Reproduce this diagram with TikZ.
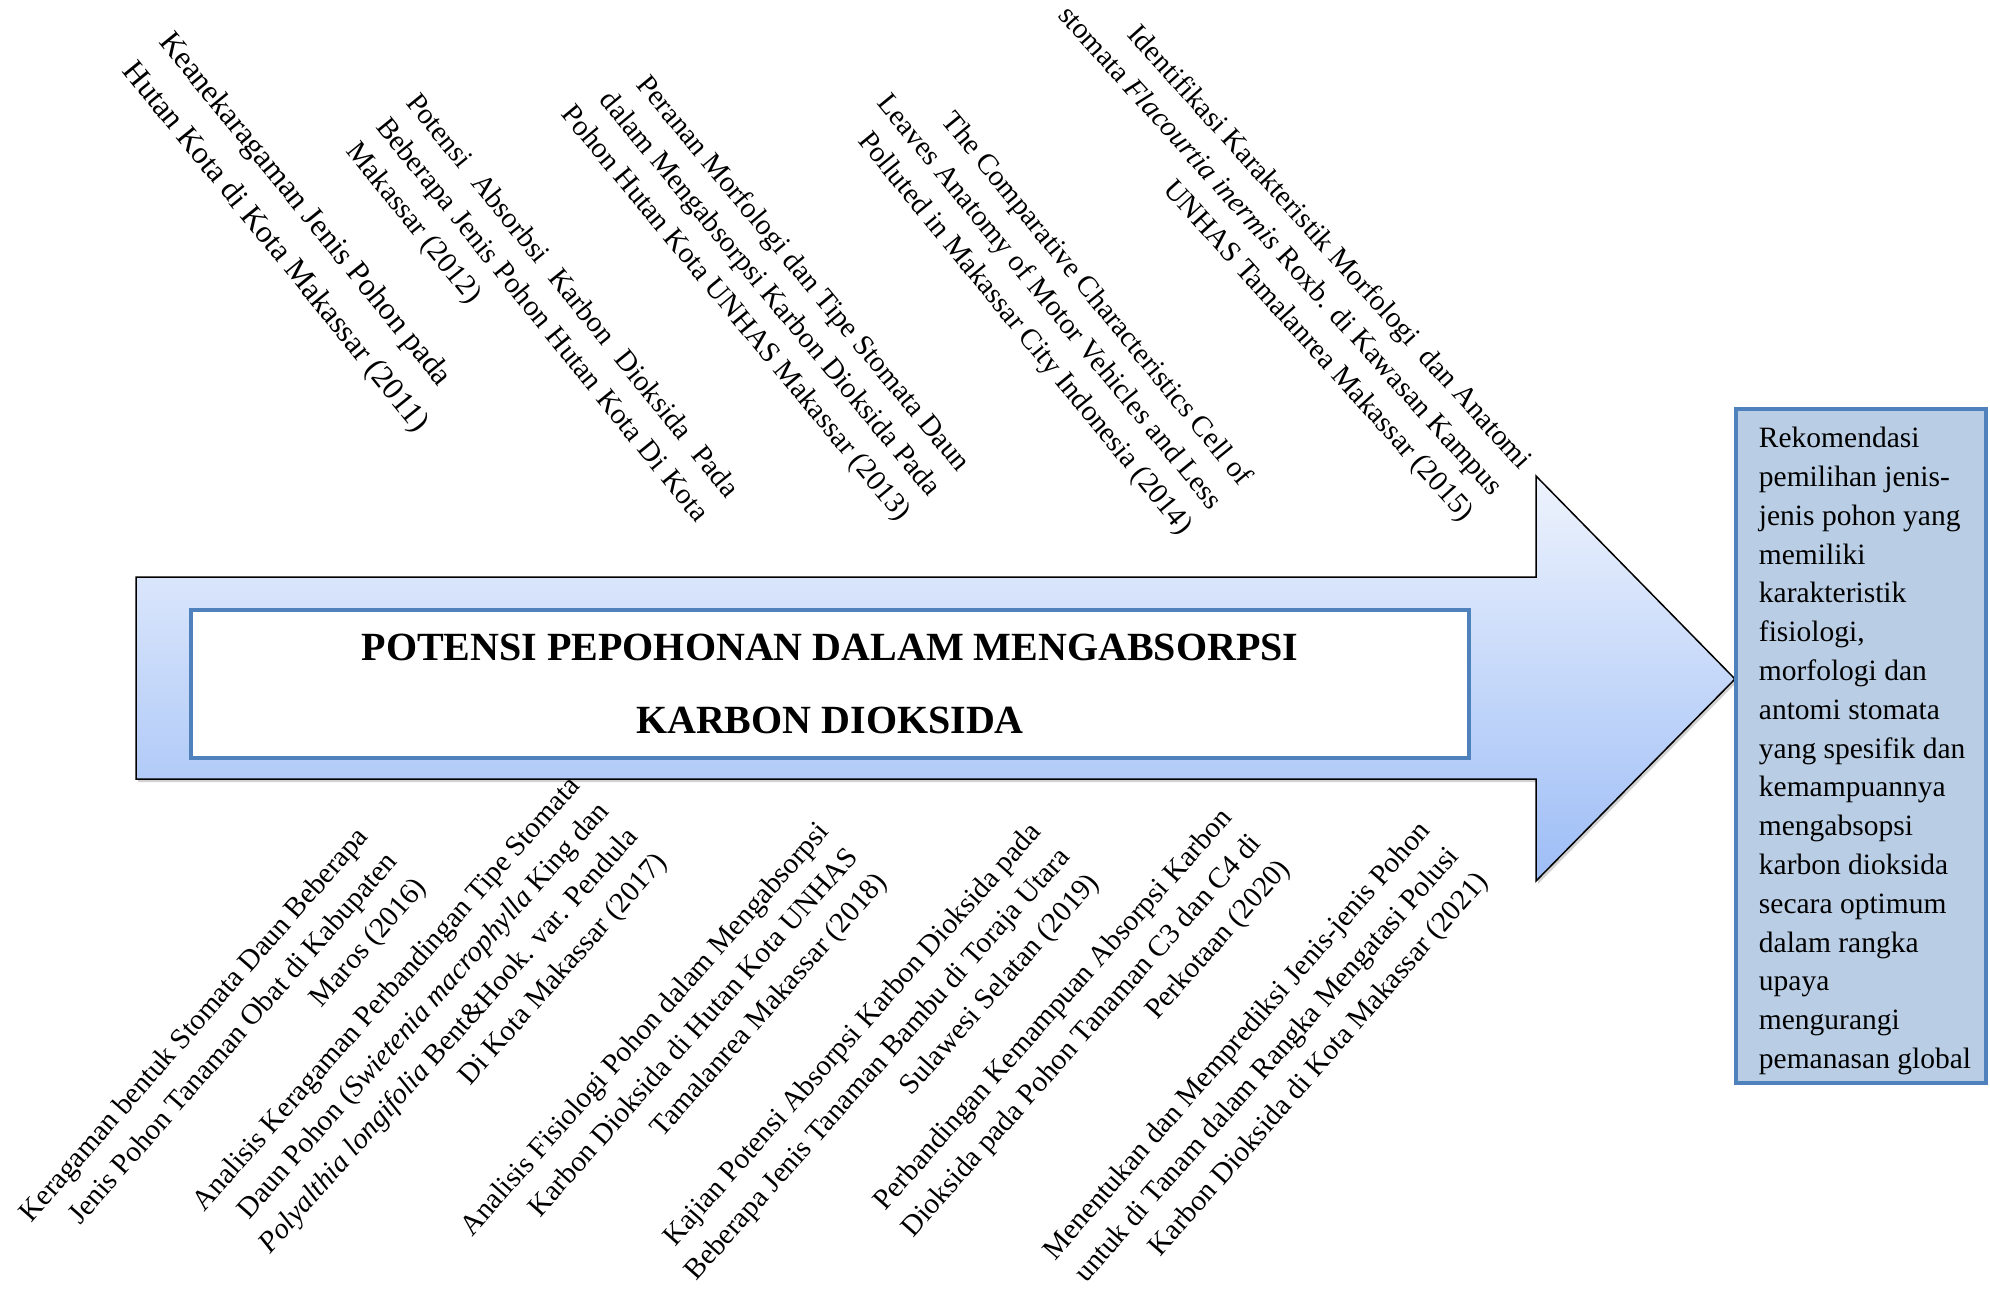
\documentclass[tikz,border=0pt]{standalone}
\usepackage{fontspec}
\setmainfont{Liberation Serif}
\usetikzlibrary{shadows}

\definecolor{birubingkai}{HTML}{4F81BD}
\definecolor{birukotak}{HTML}{B9CDE5}
\definecolor{panahatas}{HTML}{EEF3FD}
\definecolor{panahbawah}{HTML}{9DBDF6}

\tikzset{
  labelatas/.style={inner sep=0pt, font=\fontsize{29.2}{38.5}\selectfont},
  labelbawah/.style={inner sep=0pt, align=right, anchor=north east,
    font=\fontsize{29.2}{38.5}\selectfont},
}

\begin{document}
\begin{tikzpicture}[x=1pt,y=-1pt]

\path[use as bounding box, fill=white] (0,0) rectangle (1990,1290);

% panah besar
\shadedraw[top color=panahatas, bottom color=panahbawah, draw=black, line width=1.5pt,
  drop shadow={shadow xshift=2pt, shadow yshift=-3pt, opacity=0.35}]
  (136,577) -- (1536,577) -- (1536,476) -- (1735,679) -- (1536,881) -- (1536,779) -- (136,779) -- cycle;

% kotak judul
\node[draw=birubingkai, line width=4.5pt, fill=white, minimum width=1278pt, minimum height=148pt,
  inner sep=0pt, align=center, font=\fontsize{40}{73}\selectfont\bfseries] (judul) at (830,684)
  {POTENSI PEPOHONAN DALAM MENGABSORPSI\\KARBON DIOKSIDA};

% kotak rekomendasi
\node[draw=birubingkai, fill=birukotak, line width=4pt, minimum width=250pt, minimum height=674pt,
  inner sep=0pt] (rekomendasi) at (1861,746) {};
\node[inner sep=0pt, align=left, font=\fontsize{29.5}{38.8}\selectfont, xshift=4pt, yshift=-5pt]
  (rekomendasiteks) at (rekomendasi.center)
  {Rekomendasi\\pemilihan jenis-\\jenis pohon yang\\memiliki\\karakteristik\\fisiologi,\\morfologi dan\\antomi stomata\\yang spesifik dan\\kemampuannya\\mengabsopsi\\karbon dioksida\\secara optimum\\dalam rangka\\upaya\\mengurangi\\pemanasan global};

% penelitian di atas panah
\node[labelatas, font=\fontsize{31.5}{46.5}\selectfont, align=left, anchor=north west, rotate=-50.9] (a2011) at (175,28)
  {Keanekaragaman Jenis Pohon pada\\Hutan Kota di Kota Makassar (2011)};
\node[labelatas, align=left, anchor=north west, rotate=-51] (a2012) at (421,90)
  {\makebox[510pt][s]{Potensi Absorbsi Karbon Dioksida Pada}\\\makebox[510pt][s]{Beberapa Jenis Pohon Hutan Kota Di Kota}\\Makassar (2012)};
\node[labelatas, align=right, anchor=north east, rotate=-50.3] (a2013) at (974,460)
  {Peranan Morfologi dan Tipe Stomata Daun\\dalam Mengabsorpsi Karbon Dioksida Pada\\Pohon Hutan Kota UNHAS Makassar (2013)};
\node[labelatas, align=right, anchor=north east, rotate=-50.7] (a2014) at (1256,474)
  {The Comparative Characteristics Cell of\\Leaves Anatomy of Motor Vehicles and Less\\Polluted in Makassar City Indonesia (2014)};
\node[labelatas, align=right, anchor=north east, rotate=-47.9] (a2015) at (1535,457)
  {Identifikasi Karakteristik Morfologi\ \ dan Anatomi\\stomata \textit{Flacourtia inermis} Roxb. di Kawasan Kampus\\UNHAS Tamalanrea Makassar (2015)};

% penelitian di bawah panah
\node[labelbawah, rotate=48.8] (b2016) at (354,824)
  {Keragaman bentuk Stomata Daun Beberapa\\Jenis Pohon Tanaman Obat di Kabupaten\\Maros (2016)};
\node[labelbawah, rotate=48.5] (b2017) at (566,773)
  {Analisis Keragaman Perbandingan Tipe Stomata\\Daun Pohon (\textit{Swietenia macrophylla} King dan\\\textit{Polyalthia longifolia} Bent\&Hook. var. Pendula\\Di Kota Makassar (2017)};
\node[labelbawah, rotate=48.5] (b2018) at (815,819)
  {Analisis Fisiologi Pohon dalam Mengabsorpsi\\Karbon Dioksida di Hutan Kota UNHAS\\Tamalanrea Makassar (2018)};
\node[labelbawah, rotate=48.5] (b2019) at (1027,819)
  {Kajian Potensi Absorpsi Karbon Dioksida pada\\Beberapa Jenis Tanaman Bambu di Toraja Utara\\Sulawesi Selatan (2019)};
\node[labelbawah, rotate=48.5] (b2020) at (1218,805)
  {Perbandingan Kemampuan Absorpsi Karbon\\Dioksida pada Pohon Tanaman C3 dan C4 di\\Perkotaan (2020)};
\node[labelbawah, rotate=48.8] (b2021) at (1416,818)
  {Menentukan dan Memprediksi Jenis-jenis Pohon\\untuk di Tanam dalam Rangka Mengatasi Polusi\\Karbon Dioksida di Kota Makassar (2021)};

\end{tikzpicture}
\end{document}
